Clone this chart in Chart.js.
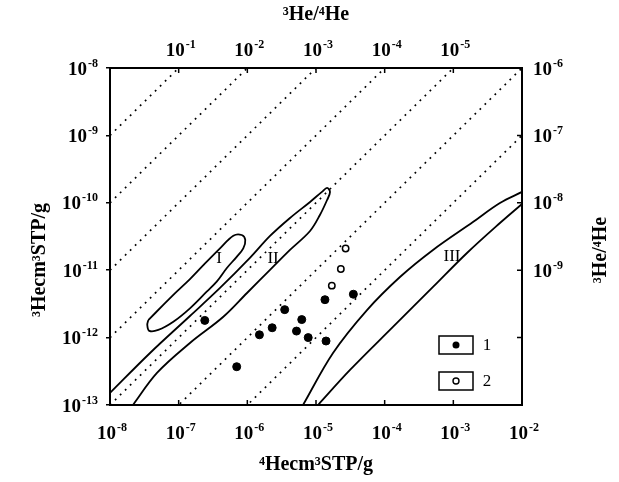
<!DOCTYPE html>
<html>
<head>
<meta charset="utf-8">
<script src="https://cdn.jsdelivr.net/npm/chart.js@4.4.0/dist/chart.umd.min.js"></script>
<style>
  html, body { margin: 0; padding: 0; background: #fff; }
  #wrap { width: 619px; height: 482px; }
</style>
</head>
<body>
<div id="wrap"><canvas id="chart-he" width="619" height="482"></canvas></div>
<script>
// ── axis ticks (labels are powers of ten: exponent only) ─────────────────
const xTicks    = [1e-8, 1e-7, 1e-6, 1e-5, 1e-4, 1e-3, 1e-2];
const xTickExps = ['-8', '-7', '-6', '-5', '-4', '-3', '-2'];
const yTicks    = [1e-8, 1e-9, 1e-10, 1e-11, 1e-12, 1e-13];
const yTickExps = ['-8', '-9', '-10', '-11', '-12', '-13'];
// top axis: 3He/4He ratio where each ratio line meets the top edge
const topTicks    = [1e-7, 1e-6, 1e-5, 1e-4, 1e-3];
const topTickExps = ['-1', '-2', '-3', '-4', '-5'];
// right axis: 3He/4He ratio at the right edge
const rightTicks    = [1e-8, 1e-9, 1e-10, 1e-11];
const rightTickExps = ['-6', '-7', '-8', '-9'];

// constant 3He/4He ratio lines (dotted)
const ratioLines = [1e-1, 1e-2, 1e-3, 1e-4, 1e-5, 1e-6, 1e-7];

// ── samples ───────────────────────────────────────────────────────────────
const group1He4 = [2.4e-7, 7.0e-7, 1.5e-6, 2.3e-6, 3.5e-6, 5.2e-6, 6.2e-6, 7.7e-6, 1.4e-5, 1.35e-5, 3.5e-5];
const group1He3 = [1.8e-12, 3.7e-13, 1.1e-12, 1.4e-12, 2.6e-12, 1.25e-12, 1.85e-12, 1.0e-12, 8.9e-13, 3.65e-12, 4.4e-12];
const group2He4 = [1.7e-5, 2.3e-5, 2.7e-5];
const group2He3 = [5.9e-12, 1.04e-11, 2.1e-11];

// ── source fields (outlines) ──────────────────────────────────────────────
const fieldI = [
  [3.61e-8, 1.82e-12], [5.97e-8, 3.05e-12], [9.35e-8, 4.80e-12], [1.46e-7, 7.40e-12],
  [2.29e-7, 1.19e-11], [4.0e-7, 2.11e-11], [6.25e-7, 3.25e-11], [8.28e-7, 3.33e-11],
  [9.33e-7, 2.81e-11], [8.73e-7, 2.11e-11], [7.0e-7, 1.58e-11], [5.0e-7, 1.07e-11],
  [3.58e-7, 6.75e-12], [2.56e-7, 4.80e-12], [1.46e-7, 2.72e-12], [8.36e-8, 1.72e-12],
  [5.05e-8, 1.30e-12], [3.73e-8, 1.26e-12], [3.49e-8, 1.54e-12], [3.61e-8, 1.82e-12],
];
const fieldII = [
  [1e-8, 1.51e-13], [3.83e-8, 5.91e-13], [1.46e-7, 2.09e-12], [4.0e-7, 5.45e-12],
  [1.09e-6, 1.52e-11], [2.14e-6, 3.22e-11], [4.18e-6, 5.95e-11], [8.19e-6, 1.03e-10],
  [1.22e-5, 1.45e-10], [1.45e-5, 1.66e-10], [1.60e-5, 1.45e-10], [1.45e-5, 1.10e-10],
  [1.14e-5, 6.59e-11], [8.19e-6, 3.82e-11], [4.18e-6, 2.0e-11], [2.14e-6, 1.01e-11],
  [9.89e-7, 4.59e-12], [4.43e-7, 2.02e-12], [1.46e-7, 8.32e-13], [4.83e-8, 2.99e-13],
  [2.16e-8, 1e-13],
];
const fieldIIIUpper = [
  [6.47e-6, 1e-13], [1.77e-5, 5.91e-13], [5.53e-5, 2.56e-12], [1.67e-4, 7.93e-12],
  [5.06e-4, 2.0e-11], [1.93e-3, 5.19e-11], [4.77e-3, 9.93e-11], [1e-2, 1.45e-10],
];
const fieldIIILower = [
  [1.07e-5, 1e-13], [3.13e-5, 3.31e-13], [1.32e-4, 1.44e-12], [5.06e-4, 5.64e-12],
  [1.58e-3, 1.80e-11], [4.77e-3, 5.01e-11], [1e-2, 9.6e-11],
];
const fieldNames  = ['I', 'II', 'III'];
const fieldNameAt = [[3.87e-7, 1.47e-11], [2.37e-6, 1.47e-11], [9.55e-4, 1.57e-11]];

const legendLabels = ['1', '2'];

// ── styling ───────────────────────────────────────────────────────────────
const SERIF = '"Liberation Serif", "Times New Roman", serif';
const BASE_FONT = `bold 19px ${SERIF}`;
const EXP_FONT  = `bold 12px ${SERIF}`;
const TITLE_FONT = { family: SERIF, size: 20, weight: 'bold' };

const toPts = arr => arr.map(([x, y]) => ({ x, y }));
const zip = (xs, ys) => xs.map((x, i) => ({ x, y: ys[i] }));

const outline = (data) => ({
  data, showLine: true, borderColor: '#000', borderWidth: 1.8,
  pointRadius: 0, tension: 0.35, fill: false,
});

const datasets = [
  {
    label: '1', data: zip(group1He4, group1He3),
    pointRadius: 4, pointBackgroundColor: '#000', pointBorderColor: '#000', showLine: false,
  },
  {
    label: '2', data: zip(group2He4, group2He3),
    pointRadius: 3.2, pointBackgroundColor: '#fff', pointBorderColor: '#000',
    pointBorderWidth: 1.5, showLine: false,
  },
  outline(toPts(fieldI)),
  outline(toPts(fieldII)),
  outline(toPts(fieldIIIUpper)),
  outline(toPts(fieldIIILower)),
  ...ratioLines.map(r => ({
    data: [{ x: 1e-8, y: r * 1e-8 }, { x: 1e-2, y: r * 1e-2 }],
    showLine: true, borderColor: '#000', borderWidth: 1.7,
    borderDash: [1.8, 5.2], pointRadius: 0, fill: false,
  })),
];

const setTicks = (vals) => (scale) => { scale.ticks = vals.map(v => ({ value: v })); };

// "10" with a raised exponent; align: 'center' | 'right' | 'left'; cy = middle of the digits
function drawPower(ctx, exp, x, cy, align) {
  ctx.font = BASE_FONT;
  const wb = ctx.measureText('10').width;
  ctx.font = EXP_FONT;
  const we = ctx.measureText(exp).width + 1;
  const w = wb + we;
  const left = align === 'center' ? x - w / 2 : align === 'right' ? x - w : x;
  ctx.textAlign = 'left';
  ctx.textBaseline = 'alphabetic';
  ctx.font = BASE_FONT;
  ctx.fillText('10', left, cy + 6.5);
  ctx.font = EXP_FONT;
  ctx.fillText(exp, left + wb + 1, cy - 1.5);
}

// tick labels, inward ticks, field names, legend and the two vertical titles
const extras = {
  id: 'extras',
  afterDraw(chart) {
    const { ctx, chartArea: a, scales: { x, y } } = chart;
    ctx.save();
    ctx.fillStyle = '#000';
    ctx.strokeStyle = '#000';

    xTicks.forEach((v, i) => drawPower(ctx, xTickExps[i], x.getPixelForValue(v) + 2, a.bottom + 27, 'center'));
    topTicks.forEach((v, i) => drawPower(ctx, topTickExps[i], x.getPixelForValue(v) + 2, a.top - 19, 'center'));
    yTicks.forEach((v, i) => drawPower(ctx, yTickExps[i], a.left - 12, y.getPixelForValue(v), 'right'));
    rightTicks.forEach((v, i) => drawPower(ctx, rightTickExps[i], a.right + 11, y.getPixelForValue(v), 'left'));

    ctx.lineWidth = 1.5;
    ctx.beginPath();
    xTicks.forEach(v => { const px = x.getPixelForValue(v); ctx.moveTo(px, a.bottom); ctx.lineTo(px, a.bottom - 5); });
    topTicks.forEach(v => { const px = x.getPixelForValue(v); ctx.moveTo(px, a.top); ctx.lineTo(px, a.top + 5); });
    yTicks.forEach(v => { const py = y.getPixelForValue(v); ctx.moveTo(a.right, py); ctx.lineTo(a.right - 5, py); });
    ctx.stroke();

    ctx.textAlign = 'center';
    ctx.textBaseline = 'middle';
    ctx.font = `17px ${SERIF}`;
    fieldNames.forEach((t, i) => {
      ctx.fillText(t, x.getPixelForValue(fieldNameAt[i][0]), y.getPixelForValue(fieldNameAt[i][1]));
    });

    // legend
    const bx = a.right - 83, bw = 34, bh = 18;
    [a.bottom - 69, a.bottom - 33].forEach((by, i) => {
      ctx.lineWidth = 1.5;
      ctx.strokeRect(bx, by, bw, bh);
      ctx.beginPath();
      ctx.arc(bx + bw / 2, by + bh / 2, i === 0 ? 3.5 : 3, 0, Math.PI * 2);
      if (i === 0) ctx.fill(); else { ctx.lineWidth = 1.4; ctx.stroke(); }
      ctx.font = `17px ${SERIF}`;
      ctx.fillText(legendLabels[i], bx + bw + 14, by + bh / 2 + 1);
    });

    // vertical axis titles (both read bottom to top)
    ctx.font = `bold 20px ${SERIF}`;
    ctx.save();
    ctx.translate(a.left - 70, a.top + 192);
    ctx.rotate(-Math.PI / 2);
    ctx.fillText('³Hecm³STP/g', 0, 0);
    ctx.restore();
    ctx.save();
    ctx.translate(a.right + 79, a.top + 182);
    ctx.rotate(-Math.PI / 2);
    ctx.fillText('³He/⁴He', 0, 0);
    ctx.restore();
    ctx.restore();
  },
};

const hiddenTicks = { display: false };

new Chart(document.getElementById('chart-he'), {
  type: 'scatter',
  data: { datasets },
  plugins: [extras],
  options: {
    responsive: false,
    animation: false,
    layout: { padding: 0 },
    plugins: { legend: { display: false }, tooltip: { enabled: false } },
    scales: {
      x: {
        type: 'logarithmic', position: 'bottom', min: 1e-8, max: 1e-2,
        afterBuildTicks: setTicks(xTicks),
        afterFit: s => { s.height = 77; },
        grid: { display: false, drawTicks: false },
        border: { display: true, color: '#000', width: 2 },
        ticks: hiddenTicks,
        title: { display: true, text: '⁴Hecm³STP/g', font: TITLE_FONT, color: '#000', padding: { top: 0, bottom: 5 } },
      },
      x2: {
        type: 'logarithmic', position: 'top', min: 1e-8, max: 1e-2,
        afterBuildTicks: setTicks(topTicks),
        afterFit: s => { s.height = 68; },
        grid: { display: false, drawTicks: false },
        border: { display: true, color: '#000', width: 2 },
        ticks: hiddenTicks,
        title: { display: true, text: '³He/⁴He', font: TITLE_FONT, color: '#000', padding: { top: 3, bottom: 0 } },
      },
      y: {
        type: 'logarithmic', position: 'left', min: 1e-13, max: 1e-8,
        afterBuildTicks: setTicks(yTicks),
        afterFit: s => { s.width = 110; },
        grid: { display: true, drawOnChartArea: false, drawTicks: true, tickLength: 4, color: '#000', lineWidth: 1.5 },
        border: { display: true, color: '#000', width: 2 },
        ticks: hiddenTicks,
      },
      y2: {
        type: 'logarithmic', position: 'right', min: 1e-13, max: 1e-8,
        afterBuildTicks: setTicks(rightTicks),
        afterFit: s => { s.width = 97; },
        grid: { display: false, drawTicks: false },
        border: { display: true, color: '#000', width: 2 },
        ticks: hiddenTicks,
      },
    },
  },
});
</script>
</body>
</html>
